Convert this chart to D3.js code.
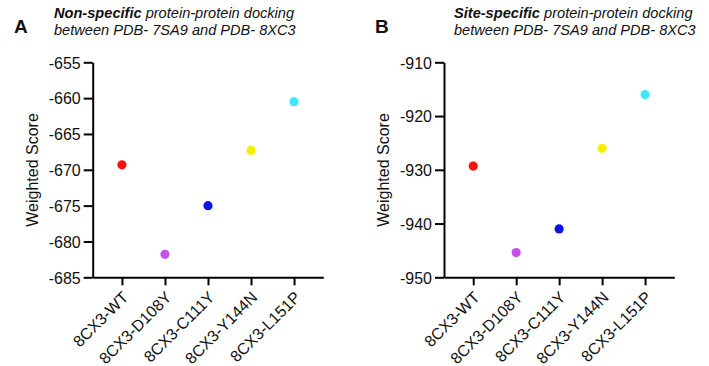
<!DOCTYPE html>
<html>
<head>
<meta charset="utf-8">
<script src="https://cdn.jsdelivr.net/npm/d3@7"></script>
<style>
  body { margin: 0; background: #fff; }
  svg text { font-family: "Liberation Sans", Arial, sans-serif; fill: #111; }
  .axis path, .axis line { stroke: #000; stroke-width: 2; }
  .axis text { font-size: 16px; }
</style>
</head>
<body>
<div id="content"></div>
<script>
// categories shared by both panels
var categories = ['8CX3-WT', '8CX3-D108Y', '8CX3-C111Y', '8CX3-Y144N', '8CX3-L151P'];
var colors = ['#ff1010', '#c452e8', '#0a14e6', '#f4f000', '#40e8ff'];

// panel A: non-specific docking
var scoresA = [-669.3, -681.8, -675.0, -667.3, -660.5];
var ticksA = [-685, -680, -675, -670, -665, -660, -655];

// panel B: site-specific docking
var scoresB = [-929.3, -945.4, -941.0, -926.0, -916.0];
var ticksB = [-950, -940, -930, -920, -910];

var width = 709, height = 366;

var svg = d3.select('#content').append('svg')
  .attr('width', width)
  .attr('height', height);

function drawPanel(opts) {
  var g = svg.append('g');

  var x = d3.scalePoint()
    .domain(categories)
    .range([opts.left, opts.right])
    .padding(0.68);

  var y = d3.scaleLinear()
    .domain(d3.extent(opts.ticks))
    .range([277.3, 62.3]);

  // y axis (plain hyphen for the minus, like the original)
  g.append('g')
    .attr('class', 'axis')
    .attr('transform', 'translate(' + opts.left + ',0)')
    .call(d3.axisLeft(y).tickValues(opts.ticks).tickSize(9).tickSizeOuter(0).tickPadding(3)
      .tickFormat(function(d) { return String(d); }))
    .selectAll('text').attr('dy', '0.36em');

  // x axis
  var xa = g.append('g')
    .attr('class', 'axis')
    .attr('transform', 'translate(0,277.3)')
    .call(d3.axisBottom(x).tickSize(8).tickSizeOuter(0));
  xa.selectAll('text')
    .attr('text-anchor', 'end')
    .attr('x', 0).attr('y', 0).attr('dy', 0)
    .attr('transform', 'translate(7,21) rotate(-45)');

  // axis title
  g.append('text')
    .attr('transform', 'translate(' + opts.titleX + ',170) rotate(-90)')
    .attr('text-anchor', 'middle')
    .style('font-size', '16px')
    .text('Weighted Score');

  // dots
  g.selectAll('circle')
    .data(opts.values)
    .enter().append('circle')
    .attr('cx', function(d, i) { return x(categories[i]); })
    .attr('cy', function(d) { return y(d); })
    .attr('r', 4.6)
    .style('fill', function(d, i) { return colors[i]; });

  // panel letter
  g.append('text')
    .attr('x', opts.letterX).attr('y', 33)
    .style('font-size', '19px').style('font-weight', 'bold')
    .text(opts.letter);

  // title, two lines
  var t = g.append('text')
    .attr('x', opts.titleStart).attr('y', 18)
    .style('font-size', '14.6px').style('font-style', 'italic');
  t.append('tspan').style('font-weight', 'bold').text(opts.bold);
  t.append('tspan').text(' protein-protein docking');
  g.append('text')
    .attr('x', opts.titleStart).attr('y', 35)
    .style('font-size', '14.6px').style('font-style', 'italic')
    .text('between PDB- 7SA9 and PDB- 8XC3');
}

drawPanel({ left: 92.7, right: 323.3, ticks: ticksA, values: scoresA, titleX: 38,
  letter: 'A', letterX: 14, bold: 'Non-specific', titleStart: 54 });
drawPanel({ left: 444, right: 674.3, ticks: ticksB, values: scoresB, titleX: 389,
  letter: 'B', letterX: 375, bold: 'Site-specific', titleStart: 454 });
</script>
</body>
</html>
